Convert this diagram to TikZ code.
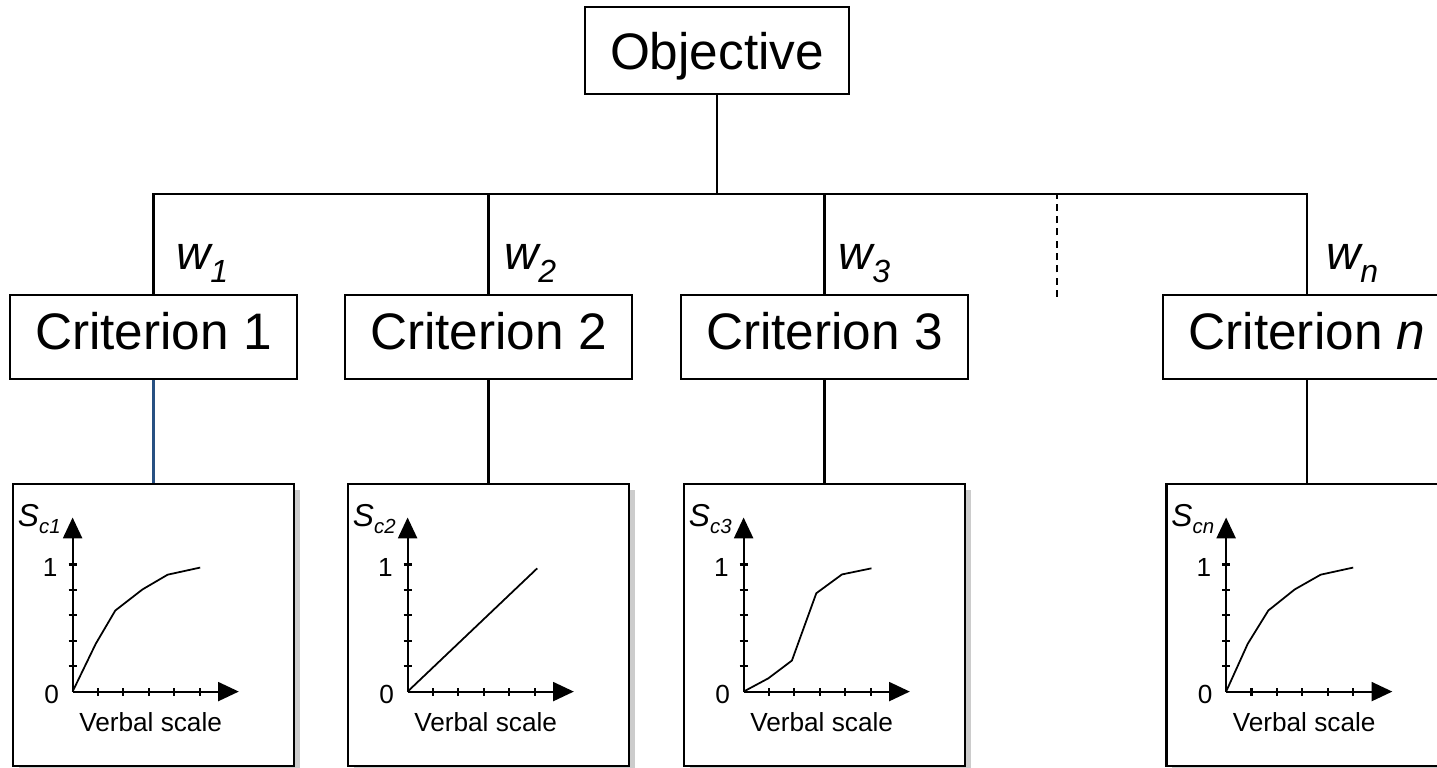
\documentclass[tikz,border=0pt]{standalone}
\usepackage{fontspec}
\setmainfont{Liberation Sans}
\usetikzlibrary{arrows.meta,shadows}

\definecolor{linkblue}{RGB}{40,80,130}
\newcommand{\wsub}[1]{\raisebox{-3.7pt}{\fontsize{9.1}{11}\selectfont #1}}
\newcommand{\ssub}[1]{\raisebox{-2pt}{\fontsize{5.8}{7}\selectfont #1}}

\tikzset{
  big/.style={font=\fontsize{14.6}{17}\selectfont},
  objbox/.style={draw, big, inner sep=0pt, minimum width=2.64cm, minimum height=0.87cm, text depth=0pt},
  crit/.style={draw, big, inner sep=0pt, minimum width=2.87cm, minimum height=0.84cm, text depth=0.13cm},
  plotbox/.style={draw, line width=0.75pt, fill=white, minimum width=2.81cm, minimum height=2.82cm,
    drop shadow={shadow xshift=0.06cm, shadow yshift=-0.06cm, fill=black!20, opacity=1}},
  wlab/.style={anchor=base west, inner sep=0pt, font=\fontsize{13.5}{16}\selectfont\itshape},
  slab/.style={anchor=base east, inner sep=0pt, font=\fontsize{9}{11}\selectfont\itshape},
  small/.style={inner sep=0pt, font=\fontsize{7.45}{9}\selectfont},
  axis/.style={-{Triangle[length=5.9pt,width=5.4pt]}},
  curve/.style={line width=0.5pt, line join=round}
}

\begin{document}
\begin{tikzpicture}[x=0.01cm, y=-0.01cm, line width=0.6pt]
  \useasboundingbox (0,0) rectangle (1437,768);

  % hierarchy
  \node[objbox] (obj) at (717,50.5) {Objective};
  \foreach \n/\x/\t in {c1/153.5/1, c2/488.5/2, c3/824.5/3, cn/1307/\textit{n}}
    \node[crit] (\n) at (\x,337) {Criterion \t};
  \coordinate (bus) at (717,194);
  \draw (obj) -- (bus);
  \foreach \n in {c1,c2,c3,cn}
    \draw (\n.north) |- (bus);
  \draw[line width=0.8pt] (c2.north |- bus) -- (c3.north |- bus);
  \coordinate (more) at (1057,297);
  \draw[dashed, dash pattern=on 2pt off 1.5pt] (more) -- (more |- bus);

  % weights
  \node[wlab] (w1) at (175,270) {w\wsub{1}};
  \node[wlab] (w2) at (503,270) {w\wsub{2}};
  \node[wlab] (w3) at (837,270) {w\wsub{3}};
  \node[wlab] (wn) at (1325,270) {w\wsub{n}};

  % value functions
  \foreach \n/\p/\x in {c1/p1/153.5, c2/p2/488.5, c3/p3/824.5, cn/pn/1307}
    \node[plotbox] (\p) at (\x,625) {};
  \draw[linkblue] (c1) -- (p1);
  \foreach \n/\p in {c2/p2, c3/p3, cn/pn}
    \draw (\n) -- (\p);

  \foreach \p/\s/\curve in {
      p1/c1/{(0.91,1.88) -- (1.68,3.19) -- (2.75,4.02) -- (3.74,4.6) -- (5.02,4.88)},
      p2/c2/{(5.1,4.85)},
      p3/c3/{(0.97,0.52) -- (1.9,1.22) -- (2.86,3.87) -- (3.87,4.61) -- (5.03,4.85)},
      pn/cn/{(0.85,1.88) -- (1.66,3.19) -- (2.7,4.02) -- (3.72,4.6) -- (5.0,4.88)}} {
    \begin{scope}[shift={(\p.north west)}, shift={(61,209)}, x=0.254cm, y=0.254cm]
      \draw[axis] (0,0) -- (6.54,0);
      \draw[axis] (0,0) -- (0,6.85);
      \foreach \k in {1,...,5}
        \draw (\k,-0.16) -- (\k,0.16) (-0.16,\k) -- (0.16,\k);
      \draw[curve] (0,0) -- \curve;
      \node[small, anchor=east] (\p-zero) at (-0.5,-0.1) {0};
      \node[small, anchor=east] (\p-one) at (-0.55,4.88) {1};
      \node[small, anchor=base] (\p-lab) at (3.07,-1.57) {Verbal scale};
      \node[slab] (\p-s) at (-0.43,6.5) {S\ssub{\s}};
    \end{scope}}
\end{tikzpicture}
\end{document}
